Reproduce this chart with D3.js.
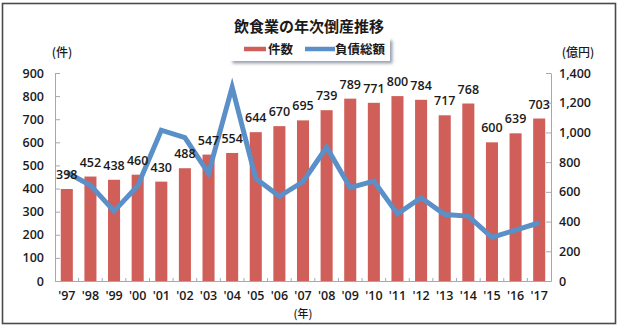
<!DOCTYPE html>
<html>
<head>
<meta charset="utf-8">
<script src="https://cdn.jsdelivr.net/npm/d3@7"></script>
<style>
  html, body { margin: 0; padding: 0; background: #fff; }
  svg { display: block; }
  text { font-family: "Open Sans", "Noto Sans CJK JP", sans-serif; }
  .jp { font-family: "Noto Sans CJK JP", sans-serif; }
</style>
</head>
<body>
<svg id="chart" width="620" height="328"></svg>
<script>
// Years (labels along the x axis)
const years = ["'97","'98","'99","'00","'01","'02","'03","'04","'05","'06","'07",
               "'08","'09","'10","'11","'12","'13","'14","'15","'16","'17"];
// Number of bankruptcies (件)
const counts = [398,452,438,460,430,488,547,554,644,670,695,739,789,771,800,784,717,768,600,639,703];
// Total liabilities (億円)
const debt = [730,645,470,640,1015,965,725,1305,690,570,668,900,628,672,452,560,447,437,294,343,392];
// Axis ticks
const leftTicks = [0,100,200,300,400,500,600,700,800,900];
const rightTicks = [0,200,400,600,800,1000,1200,1400];

const title = "飲食業の年次倒産推移";
const legendItems = [
  { label: "件数", color: "#cf5f58" },
  { label: "負債総額", color: "#5a8fc8" }
];

const svg = d3.select("#chart");
const plot = { left: 55, right: 551, top: 73, bottom: 281 };

// outer frame
svg.append("rect")
  .attr("x", 2.5).attr("y", 3.5).attr("width", 613).attr("height", 320)
  .attr("fill", "#fff").attr("stroke", "#4a4a4a").attr("stroke-width", 1.6);

const x = d3.scaleBand().domain(years)
  .range([plot.left, plot.right]).paddingInner(0.49).paddingOuter(0.245);
const yL = d3.scaleLinear().domain([0, 900]).range([plot.bottom, plot.top]);
const yR = d3.scaleLinear().domain([0, 1400]).range([plot.bottom, plot.top]);

const axisColor = "#a3a8b4";
const tickFont = 12.5;

// left axis
const gL = svg.append("g").attr("transform", `translate(${plot.left},0)`)
  .call(d3.axisLeft(yL).tickValues(leftTicks).tickSizeInner(-5).tickSizeOuter(0).tickPadding(11));
// right axis
const gR = svg.append("g").attr("transform", `translate(${plot.right},0)`)
  .call(d3.axisRight(yR).tickValues(rightTicks).tickSizeInner(-5).tickSizeOuter(0).tickPadding(8)
        .tickFormat(d3.format(",")));
[gL, gR].forEach(g => {
  g.select(".domain").attr("stroke", axisColor);
  g.selectAll(".tick line").attr("stroke", axisColor);
  g.selectAll(".tick text").attr("font-size", tickFont).attr("font-weight", 600).attr("fill", "#1a1a1a");
});

// bars
svg.append("g").selectAll("rect").data(years).join("rect")
  .attr("x", d => x(d))
  .attr("y", (d, i) => yL(counts[i]))
  .attr("width", x.bandwidth())
  .attr("height", (d, i) => yL(0) - yL(counts[i]))
  .attr("fill", legendItems[0].color);

// bottom axis
const gB = svg.append("g").attr("transform", `translate(0,${plot.bottom})`)
  .call(d3.axisBottom(x).tickSize(0).tickPadding(10));
gB.select(".domain").attr("stroke", axisColor).attr("stroke-width", 1.2);
gB.selectAll(".tick text").attr("font-size", tickFont).attr("font-weight", 600).attr("fill", "#1a1a1a");
// small separators between categories
const gap = x.step() * x.paddingInner();
svg.append("g").selectAll("line").data(years.slice(1)).join("line")
  .attr("x1", d => x(d) - gap / 2).attr("x2", d => x(d) - gap / 2)
  .attr("y1", plot.bottom).attr("y2", plot.bottom - 3)
  .attr("stroke", axisColor).attr("stroke-width", 1);

// liabilities line
const line = d3.line()
  .x((d, i) => x(years[i]) + x.bandwidth() / 2)
  .y(d => yR(d));
svg.append("path").datum(debt)
  .attr("d", line)
  .attr("fill", "none")
  .attr("stroke", legendItems[1].color)
  .attr("stroke-width", 5)
  .attr("stroke-linejoin", "miter");

// value labels on bars
svg.append("g").selectAll("text").data(years).join("text")
  .attr("x", d => x(d) + x.bandwidth() / 2)
  .attr("y", (d, i) => yL(counts[i]) - 10)
  .attr("text-anchor", "middle")
  .attr("font-size", 12.5).attr("font-weight", 600).attr("fill", "#1a1a1a")
  .text((d, i) => counts[i]);

// title
svg.append("text").attr("class", "jp")
  .attr("x", 309).attr("y", 32).attr("text-anchor", "middle")
  .attr("font-size", 15).attr("font-weight", 700).attr("fill", "#1a1a1a")
  .text(title);

// unit labels
svg.append("text").attr("class", "jp").attr("x", 62).attr("y", 57)
  .attr("text-anchor", "middle").attr("font-size", 12).attr("font-weight", 500).attr("fill", "#1a1a1a").text("(件)");
svg.append("text").attr("class", "jp").attr("x", 578).attr("y", 57)
  .attr("text-anchor", "middle").attr("font-size", 12).attr("font-weight", 500).attr("fill", "#1a1a1a").text("(億円)");
svg.append("text").attr("class", "jp").attr("x", 303).attr("y", 318)
  .attr("text-anchor", "middle").attr("font-size", 11).attr("font-weight", 500).attr("fill", "#1a1a1a").text("(年)");

// legend with drop shadow
const defs = svg.append("defs");
const f = defs.append("filter").attr("id", "shadow")
  .attr("x", "-10%").attr("y", "-30%").attr("width", "130%").attr("height", "180%");
f.append("feDropShadow").attr("dx", 2.5).attr("dy", 2.5).attr("stdDeviation", 1.5)
  .attr("flood-color", "#707a90").attr("flood-opacity", 0.7);
const lg = svg.append("g");
lg.append("rect").attr("x", 230).attr("y", 38).attr("width", 160).attr("height", 23)
  .attr("fill", "#fff").attr("filter", "url(#shadow)");
const legendPos = [{ sx: 244, sw: 22, tx: 268 }, { sx: 305, sw: 30, tx: 335 }];
legendItems.forEach((it, i) => {
  const p = legendPos[i];
  lg.append("line").attr("x1", p.sx).attr("x2", p.sx + p.sw).attr("y1", 49).attr("y2", 49)
    .attr("stroke", it.color).attr("stroke-width", 4.5);
  lg.append("text").attr("class", "jp").attr("x", p.tx).attr("y", 54)
    .attr("font-size", 12.5).attr("font-weight", 700).attr("fill", "#1a1a1a").text(it.label);
});
</script>
</body>
</html>
